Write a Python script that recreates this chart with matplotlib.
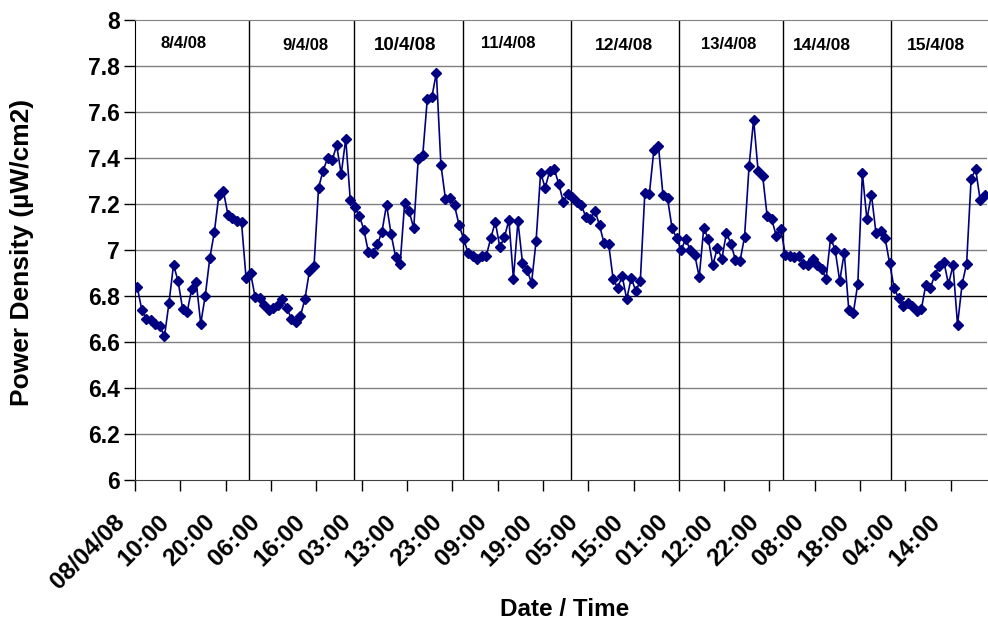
import numpy as np
import matplotlib
matplotlib.use("Agg")
import matplotlib.pyplot as plt
import matplotlib.transforms as mtransforms

plt.rcParams['font.family'] = ['Liberation Sans', 'DejaVu Sans']
plt.rcParams['font.weight'] = 'bold'

# hourly power density readings, 8/4/08 00:00 onwards (uW/cm2)
power = [6.838, 6.74, 6.70, 6.694, 6.68, 6.668, 6.624, 6.77, 6.936, 6.865,
         6.745, 6.73, 6.83, 6.862, 6.68, 6.80, 6.964, 7.077, 7.238, 7.257,
         7.154, 7.14, 7.125, 7.12, 6.88, 6.90, 6.796, 6.79, 6.76, 6.74,
         6.748, 6.76, 6.787, 6.75, 6.70, 6.687, 6.713, 6.787, 6.91, 6.93,
         7.27, 7.345, 7.399, 7.39, 7.455, 7.33, 7.483, 7.219, 7.187, 7.149,
         7.088, 6.991, 6.988, 7.025, 7.08, 7.197, 7.07, 6.97, 6.938, 7.204,
         7.168, 7.094, 7.396, 7.414, 7.657, 7.664, 7.771, 7.371, 7.222, 7.226,
         7.194, 7.109, 7.048, 6.988, 6.972, 6.962, 6.974, 6.974, 7.051, 7.122,
         7.013, 7.055, 7.13, 6.875, 7.125, 6.945, 6.913, 6.857, 7.038, 7.336,
         7.271, 7.342, 7.352, 7.288, 7.209, 7.245, 7.23, 7.209, 7.194, 7.143,
         7.136, 7.171, 7.107, 7.03, 7.028, 6.874, 6.836, 6.886, 6.787, 6.878,
         6.822, 6.865, 7.248, 7.245, 7.436, 7.454, 7.238, 7.225, 7.096, 7.052,
         6.999, 7.048, 7.001, 6.98, 6.883, 7.096, 7.048, 6.933, 7.01, 6.962,
         7.074, 7.028, 6.955, 6.952, 7.057, 7.365, 7.567, 7.342, 7.322, 7.146,
         7.133, 7.062, 7.091, 6.98, 6.975, 6.97, 6.975, 6.94, 6.933, 6.96,
         6.936, 6.919, 6.874, 7.054, 6.999, 6.865, 6.988, 6.741, 6.726, 6.854,
         7.335, 7.133, 7.241, 7.074, 7.081, 7.054, 6.943, 6.835, 6.791, 6.755,
         6.77, 6.755, 6.733, 6.742, 6.849, 6.835, 6.893, 6.929, 6.948, 6.851,
         6.933, 6.675, 6.851, 6.941, 7.31, 7.351, 7.216, 7.238]

tick_labels = ['08/04/08', '10:00', '20:00', '06:00', '16:00', '03:00', '13:00',
               '23:00', '09:00', '19:00', '05:00', '15:00', '01:00', '12:00',
               '22:00', '08:00', '18:00', '04:00', '14:00']

day_names = ['8/4/08', '9/4/08', '10/4/08', '11/4/08', '12/4/08', '13/4/08',
             '14/4/08', '15/4/08']
# where each day starts (in reading index) and where its label sits
day_breaks = [24.6, 47.9, 71.8, 95.6, 119.6, 142.5, 166.3]
day_label_x = [10.3, 37.1, 59.1, 81.8, 107.4, 130.6, 151.0, 176.2]
day_label_y = [7.90, 7.89, 7.89, 7.90, 7.89, 7.895, 7.89, 7.89]
day_label_size = [12, 12, 13.5, 12, 12.5, 12, 12.5, 12.5]

x = np.arange(len(power))

fig = plt.figure(figsize=(9.88, 6.23), dpi=100)
ax = fig.add_axes([135/988, 1-480/623, 852/988, 460/623])

# gridlines (6.8 one is drawn darker in the original)
for v in np.arange(6.2, 7.9, 0.2):
    c = 'black' if abs(v - 6.8) < 1e-6 else '#808080'
    ax.axhline(v, color=c, lw=1.0, zorder=1)
for b in day_breaks:
    ax.axvline(b, color='black', lw=1.0, zorder=1)

ax.plot(x, power, color='#000080', lw=1.2, marker='D', ms=4.8,
        markerfacecolor='#000080', markeredgecolor='#000080', zorder=3)

for name, lx, ly, fs in zip(day_names, day_label_x, day_label_y, day_label_size):
    ax.text(lx, ly, name, ha='center', va='center', fontsize=fs, fontweight='bold')

ax.set_xlim(-0.5, len(power) - 0.5)
ax.set_ylim(6, 8)
ax.set_yticks(np.arange(6, 8.01, 0.2))
ax.set_yticklabels(['6', '6.2', '6.4', '6.6', '6.8', '7', '7.2', '7.4', '7.6', '7.8', '8'])
ax.set_xticks(np.arange(0, 190, 10) - 0.5)
ax.set_xticklabels(tick_labels, rotation=45, ha='right', va='top')

ax.tick_params(axis='y', direction='out', length=8, width=1, pad=3, labelsize=16.5)
ax.tick_params(axis='x', direction='out', length=8, width=1, pad=14, labelsize=17.5)

# nudge the slanted date labels a little to the left
shift = mtransforms.ScaledTranslation(-6/100, 0, fig.dpi_scale_trans)
for lab in ax.get_xticklabels():
    lab.set_transform(lab.get_transform() + shift)

ax.spines['right'].set_visible(False)
ax.spines['top'].set_color('#808080')
ax.spines['bottom'].set_color('#404040')
ax.spines['left'].set_color('black')

fig.text(565/988, 1-610/623, 'Date / Time', ha='center', va='center',
         fontsize=17.5, fontweight='bold')
fig.text(22/988, 1-252/623, 'Power Density (µW/cm2)', ha='center', va='center',
         rotation=90, fontsize=19, fontweight='bold')

fig.savefig('out.png', dpi=100)
